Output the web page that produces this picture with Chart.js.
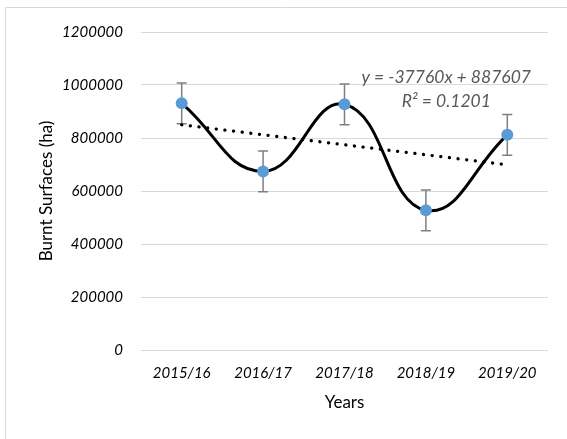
<!DOCTYPE html>
<html>
<head>
<meta charset="utf-8">
<script src="https://cdn.jsdelivr.net/npm/chart.js@4/dist/chart.umd.min.js"></script>
<style>
  html, body { margin: 0; padding: 0; background: #fff; }
  #wrap { position: relative; width: 567px; height: 439px; }
</style>
</head>
<body>
<div id="wrap"><canvas id="c" width="567" height="439"></canvas></div>
<script>
// ---- data ----
const categories = ['2015/16', '2016/17', '2017/18', '2018/19', '2019/20'];
const burnt = [931000, 674000, 927000, 527000, 812000];
const errors = [77000, 77000, 77000, 77000, 77000];
const trendValues = [849847, null, null, null, 698807];
const yTicks = [0, 200000, 400000, 600000, 800000, 1000000, 1200000];
const equationLines = ['y = -37760x + 887607', 'R\u00b2 = 0.1201'];

const FONT = 'Lato, "Open Sans", sans-serif';

const framePlugin = {
  id: 'frame',
  beforeDraw(chart) {
    const ctx = chart.ctx;
    ctx.save();
    ctx.fillStyle = '#fff';
    ctx.fillRect(0, 0, chart.width, chart.height);
    ctx.strokeStyle = '#d9d9d9';
    ctx.lineWidth = 1;
    ctx.beginPath();
    ctx.moveTo(5.5, chart.height);
    ctx.lineTo(5.5, 7.5);
    ctx.lineTo(chart.width, 7.5);
    ctx.stroke();
    ctx.restore();
  }
};

const errorBarPlugin = {
  id: 'errorBars',
  beforeDatasetsDraw(chart) {
    const ctx = chart.ctx;
    const x = chart.scales.x, y = chart.scales.y;
    ctx.save();
    ctx.strokeStyle = '#7f7f7f';
    ctx.lineWidth = 1.5;
    burnt.forEach((v, i) => {
      const px = x.getPixelForValue(i);
      const top = y.getPixelForValue(v + errors[i]);
      const bot = y.getPixelForValue(v - errors[i]);
      ctx.beginPath();
      ctx.moveTo(px, top); ctx.lineTo(px, bot);
      ctx.moveTo(px - 5, top); ctx.lineTo(px + 5, top);
      ctx.moveTo(px - 5, bot); ctx.lineTo(px + 5, bot);
      ctx.stroke();
    });
    ctx.restore();
  }
};

const equationPlugin = {
  id: 'equation',
  afterDatasetsDraw(chart) {
    const ctx = chart.ctx;
    const x = chart.scales.x, y = chart.scales.y;
    const cx = x.getPixelForValue(3) + 0.25 * (x.getPixelForValue(4) - x.getPixelForValue(3));
    ctx.save();
    ctx.fillStyle = '#595959';
    ctx.font = 'italic 17.5px ' + FONT;
    ctx.textAlign = 'center';
    ctx.textBaseline = 'middle';
    ctx.fillText(equationLines[0], cx, y.getPixelForValue(1028000));
    ctx.fillText(equationLines[1], cx, y.getPixelForValue(938000));
    ctx.restore();
  }
};

new Chart(document.getElementById('c'), {
  type: 'line',
  data: {
    labels: categories,
    datasets: [
      {
        label: 'Burnt surfaces',
        data: burnt,
        borderColor: '#000',
        borderWidth: 3,
        tension: 0.45,
        pointRadius: 6,
        pointHoverRadius: 6,
        pointBackgroundColor: '#5b9bd5',
        pointBorderColor: '#5b9bd5',
        pointBorderWidth: 0,
        fill: false
      },
      {
        label: 'Trend',
        data: trendValues,
        spanGaps: true,
        borderColor: '#000',
        borderWidth: 3.3,
        borderDash: [0.1, 8.6],
        borderCapStyle: 'round',
        pointRadius: 0,
        tension: 0,
        fill: false
      }
    ]
  },
  options: {
    responsive: false,
    animation: false,
    events: [],
    layout: { padding: { top: 32, right: 19, left: 0, bottom: 0 } },
    plugins: { legend: { display: false }, tooltip: { enabled: false } },
    scales: {
      x: {
        type: 'category',
        offset: true,
        grid: { display: false, drawTicks: false },
        border: { display: false },
        ticks: { color: '#000', padding: 14, font: { family: FONT, size: 15, style: 'italic' } },
        title: { display: true, text: 'Years', color: '#000', padding: { top: 0, bottom: 26 }, font: { family: FONT, size: 17 } },
        afterFit(s) { s.height = 89; }
      },
      y: {
        min: 0,
        max: 1200000,
        afterBuildTicks(s) { s.ticks = yTicks.map(v => ({ value: v })); },
        grid: { color: '#d9d9d9', lineWidth: 1, drawTicks: false },
        border: { display: false },
        ticks: { color: '#000', padding: 18, font: { family: FONT, size: 15, style: 'italic' }, callback: v => String(v) },
        title: { display: true, text: 'Burnt Surfaces (ha)', color: '#000', padding: { top: 36, bottom: 0 }, font: { family: FONT, size: 17 } },
        afterFit(s) { s.width = 141; }
      }
    }
  },
  plugins: [framePlugin, errorBarPlugin, equationPlugin]
});
</script>
</body>
</html>
